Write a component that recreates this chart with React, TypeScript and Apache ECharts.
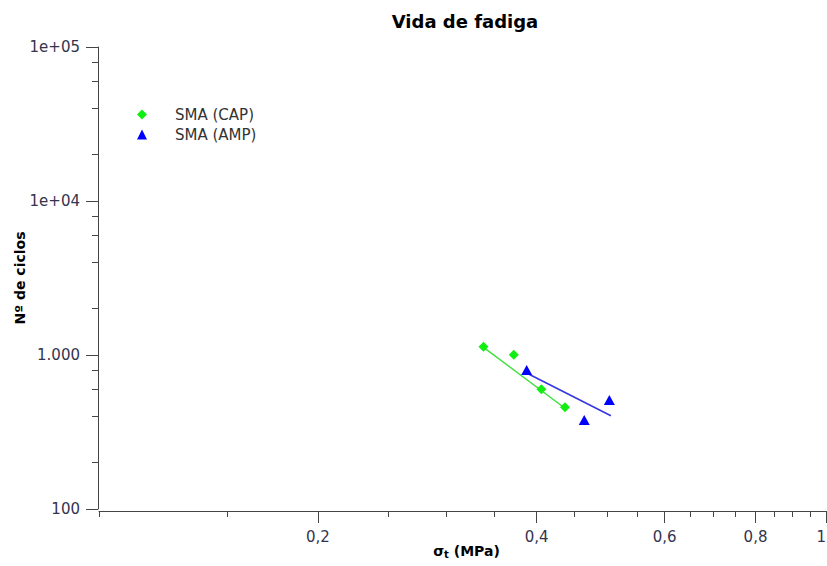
import React, { useEffect, useRef } from 'react';
import * as echarts from 'echarts';

const capStress = [0.338, 0.372, 0.406, 0.4375];
const capCycles = [1130, 1005, 600, 457];
const ampStress = [0.3875, 0.5035, 0.465];
const ampCycles = [800, 510, 378];
const capFitStress = [0.338, 0.4375];
const capFitCycles = [1122, 451];
const ampFitStress = [0.388, 0.506];
const ampFitCycles = [761, 403];

const xMajorTicks = [0.2, 0.4, 0.6, 0.8, 1];
const xMinorTicks = [0.1, 0.15, 0.25, 0.3, 0.35, 0.45, 0.5, 0.55, 0.65, 0.7, 0.75, 0.85, 0.9, 0.95];
const yMajorTicks = [100, 1000, 10000, 100000];
const yMajorLabels = ['100', '1.000', '1e+04', '1e+05'];
const yMinorTicks = [200, 400, 600, 800, 2000, 4000, 6000, 8000, 20000, 40000, 60000, 80000];

const FONT = 'DejaVu Sans';
const LABEL_COLOR = '#34344e';
const AXIS_COLOR = '#454545';

const zip = (a: number[], b: number[]) => a.map((v, i) => [v, b[i]]);

export default function App() {
  const ref = useRef<HTMLDivElement>(null);
  useEffect(() => {
    if (!ref.current) return;
    const chart = echarts.init(ref.current, null, { renderer: 'svg' });
    const baseX = { type: 'log', logBase: 10, min: 0.1, max: 1, gridIndex: 0, position: 'bottom', offset: 2, splitLine: { show: false } };
    const baseY = { type: 'log', logBase: 10, min: 100, max: 100000, gridIndex: 0, position: 'left', offset: 1, splitLine: { show: false } };
    chart.setOption({
      animation: false,
      backgroundColor: '#ffffff',
      title: {
        text: 'Vida de fadiga',
        left: 460,
        textAlign: 'center',
        top: 7,
        textStyle: { fontFamily: FONT, fontSize: 18, fontWeight: 'bold', color: '#000' },
      },
      legend: {
        orient: 'vertical',
        left: 132,
        top: 102,
        itemWidth: 10,
        itemHeight: 10,
        itemGap: 5,
        data: ['SMA (CAP)', 'SMA (AMP)'],
        textStyle: { fontFamily: FONT, fontSize: 15, color: '#333333', padding: [0, 0, 0, 23] },
      },
      grid: { left: 99, right: 1, top: 47, bottom: 57, containLabel: false, outerBoundsMode: 'none' },
      xAxis: [
        {
          ...baseX,
          name: '{a|σ}{s|t}{a| (MPa)}',
          nameLocation: 'middle',
          nameGap: 32,
          nameMoveOverlap: false,
          nameTextStyle: {
            padding: [0, 0, 0, 8],
            rich: {
              a: { fontFamily: FONT, fontSize: 14, fontWeight: 'bold', color: '#000' },
              s: { fontFamily: FONT, fontSize: 10, fontWeight: 'bold', color: '#000', verticalAlign: 'bottom', padding: [6, 0, 0, 0] },
            },
          },
          axisLine: { show: true, lineStyle: { color: AXIS_COLOR, width: 1 } },
          axisTick: { show: true, inside: false, length: 12, customValues: xMajorTicks, lineStyle: { color: AXIS_COLOR } },
          axisLabel: {
            show: true,
            margin: 18,
            customValues: xMajorTicks,
            alignMaxLabel: 'right',
            fontFamily: FONT,
            fontSize: 15,
            color: LABEL_COLOR,
            formatter: (v: number) => String(Math.round(v * 10) / 10).replace('.', ','),
          },
        },
        {
          ...baseX,
          axisLine: { show: false },
          axisTick: { show: true, length: 6, customValues: xMinorTicks, lineStyle: { color: AXIS_COLOR } },
          axisLabel: { show: false },
        },
      ],
      yAxis: [
        {
          ...baseY,
          name: 'Nº de ciclos',
          nameLocation: 'middle',
          nameGap: 71,
          nameMoveOverlap: false,
          nameRotate: 90,
          nameTextStyle: { fontFamily: FONT, fontSize: 14, fontWeight: 'bold', color: '#000' },
          axisLine: { show: true, lineStyle: { color: AXIS_COLOR, width: 1 } },
          axisTick: { show: true, length: 12, customValues: yMajorTicks, lineStyle: { color: AXIS_COLOR } },
          axisLabel: {
            show: true,
            margin: 18,
            customValues: yMajorTicks,
            fontFamily: FONT,
            fontSize: 15,
            color: LABEL_COLOR,
            formatter: (v: number) => {
              const i = Math.round(Math.log10(v)) - 2;
              return yMajorLabels[i] ?? String(v);
            },
          },
        },
        {
          ...baseY,
          axisLine: { show: false },
          axisTick: { show: true, length: 6, customValues: yMinorTicks, lineStyle: { color: AXIS_COLOR } },
          axisLabel: { show: false },
        },
      ],
      series: [
        {
          name: 'CAP fit',
          type: 'line',
          xAxisIndex: 0,
          yAxisIndex: 0,
          data: zip(capFitStress, capFitCycles),
          showSymbol: false,
          symbol: 'none',
          silent: true,
          lineStyle: { color: '#3fe03f', width: 1.5 },
          z: 2,
        },
        {
          name: 'AMP fit',
          type: 'line',
          xAxisIndex: 0,
          yAxisIndex: 0,
          data: zip(ampFitStress, ampFitCycles),
          showSymbol: false,
          symbol: 'none',
          silent: true,
          lineStyle: { color: '#3535e0', width: 1.5 },
          z: 2,
        },
        {
          name: 'SMA (CAP)',
          type: 'scatter',
          xAxisIndex: 0,
          yAxisIndex: 0,
          symbol: 'diamond',
          symbolSize: [10, 10],
          itemStyle: { color: '#11ee11', opacity: 1 },
          data: zip(capStress, capCycles),
          z: 3,
        },
        {
          name: 'SMA (AMP)',
          type: 'scatter',
          xAxisIndex: 0,
          yAxisIndex: 0,
          symbol: 'triangle',
          symbolSize: [11, 10],
          itemStyle: { color: '#0000ff', opacity: 1 },
          data: zip(ampStress, ampCycles),
          z: 3,
        },
      ],
    });
    return () => chart.dispose();
  }, []);
  return (
    <div
      ref={ref}
      style={{ position: 'fixed', left: 0, top: 0, width: 827, height: 566, background: '#fff' }}
    />
  );
}
